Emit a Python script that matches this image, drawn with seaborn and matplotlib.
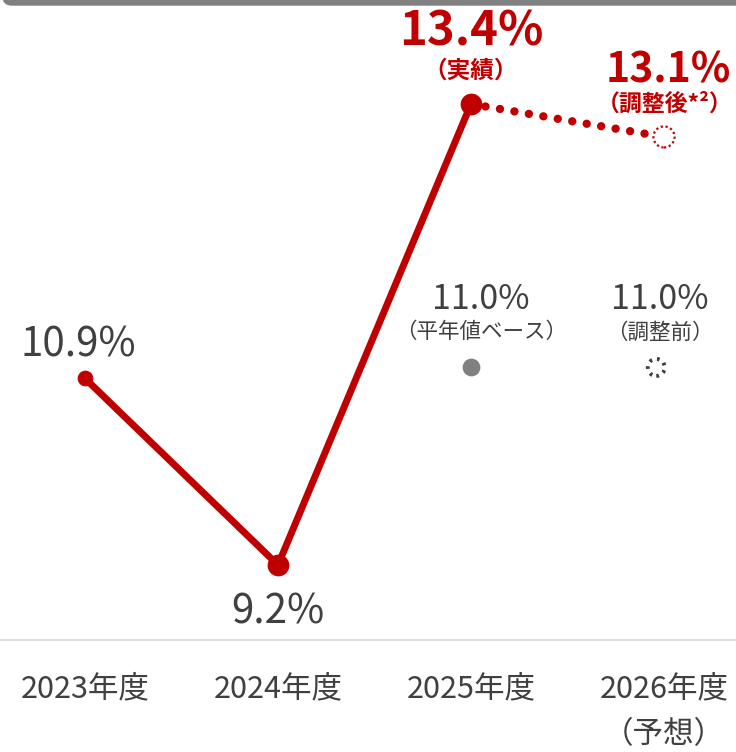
import numpy as np
import pandas as pd
import seaborn as sns
import matplotlib.pyplot as plt
from matplotlib.patches import FancyBboxPatch

# =========================
# data
# =========================
years = ['2023年度', '2024年度', '2025年度', '2026年度']
year_labels = ['2023年度', '2024年度', '2025年度', '2026年度\n（予想）']
actual = [10.9, 9.2, 13.4]          # 実績
forecast_adj = 13.1                 # 2026 調整後
base_2025 = 11.0                    # 2025 平年値ベース
pre_adj_2026 = 11.0                 # 2026 調整前

RED = '#c00000'
GREY = '#404040'

sns.set_style('white')
plt.rcParams['font.family'] = ['Noto Sans CJK JP', 'DejaVu Sans']

df = pd.DataFrame({'x': range(len(actual)), 'rate': actual})

fig = plt.figure(figsize=(7.36, 7.52), dpi=100)
ax = fig.add_axes([0, 112 / 752, 1, 640 / 752])

# main line
sns.lineplot(data=df, x='x', y='rate', ax=ax, color=RED, linewidth=5,
             solid_capstyle='round', zorder=3)
sns.scatterplot(x=[0], y=[actual[0]], ax=ax, s=110, color=RED, edgecolor=RED, zorder=4)
sns.scatterplot(x=[1, 2], y=actual[1:], ax=ax, s=210, color=RED, edgecolor=RED, zorder=4)

# dotted forecast
ax.plot([2, 3], [actual[2], forecast_adj], color=RED, linewidth=6,
        linestyle=(0, (0.01, 1.75)), dash_capstyle='round', zorder=2)
ax.scatter([3], [forecast_adj], s=230, facecolors='white', edgecolors=RED,
           linewidths=1.6, linestyle=(0, (1, 1.2)), zorder=5)

# reference markers
sns.scatterplot(x=[2], y=[base_2025], ax=ax, s=140, color='#808080',
                edgecolor='#808080', zorder=4)
ax.scatter([2.96], [pre_adj_2026], s=150, facecolors='none', edgecolors=GREY,
           linewidths=2.8, linestyle=(0, (0.7, 1.3)), zorder=4)

# labels
def lab(txt, x, y, dx, dy, size, color='#404040', weight='normal'):
    ax.annotate(txt, (x, y), xytext=(dx, dy), textcoords='offset pixels',
                ha='center', va='center', fontsize=size, color=color,
                fontweight=weight)

lab(f'{actual[0]:.1f}%', 0, actual[0], -7, 33, 29)
lab(f'{actual[1]:.1f}%', 1, actual[1], 0, -47, 29)
lab(f'{actual[2]:.1f}%', 2, actual[2], 0, 72, 34, RED, 'bold')
lab('（実績）', 2, actual[2], 0, 33, 17, RED, 'bold')
lab(f'{forecast_adj:.1f}%', 3, forecast_adj, 4, 66, 29.5, RED, 'bold')
lab('（調整後*²）', 3, forecast_adj, 1, 33, 16.5, RED, 'bold')
lab(f'{base_2025:.1f}%', 2, base_2025, 10, 68, 24.5)
lab('（平年値ベース）', 2, base_2025, 10, 35, 15.5)
lab(f'{pre_adj_2026:.1f}%', 2.96, pre_adj_2026, 4, 68, 24.5)
lab('（調整前）', 2.96, pre_adj_2026, 4, 35, 15.5)

# axes
px = (565 - 104) / (actual[2] - actual[1])
ax.set_xlim(-85 / 193, 3 + 72 / 193)
ax.set_ylim(actual[1] - 75 / px, actual[2] + 104 / px)
ax.set_xticks(range(len(years)))
ax.set_xticklabels(year_labels, fontsize=22, color='#404040', linespacing=1.6)
ax.tick_params(axis='x', length=0, pad=24)
ax.set_yticks([])
ax.set_xlabel('')
ax.set_ylabel('')
for side in ['top', 'left', 'right']:
    ax.spines[side].set_visible(False)
ax.spines['bottom'].set_color('#e0e0e0')
ax.spines['bottom'].set_linewidth(1.5)

# top grey bar
fig.patches.append(FancyBboxPatch((0.004, 1 - 5 / 752), 1.2, 0.05,
                                  boxstyle='round,pad=0,rounding_size=0.012',
                                  transform=fig.transFigure, color='#808080',
                                  zorder=0))

fig.savefig('out.png', dpi=100)
